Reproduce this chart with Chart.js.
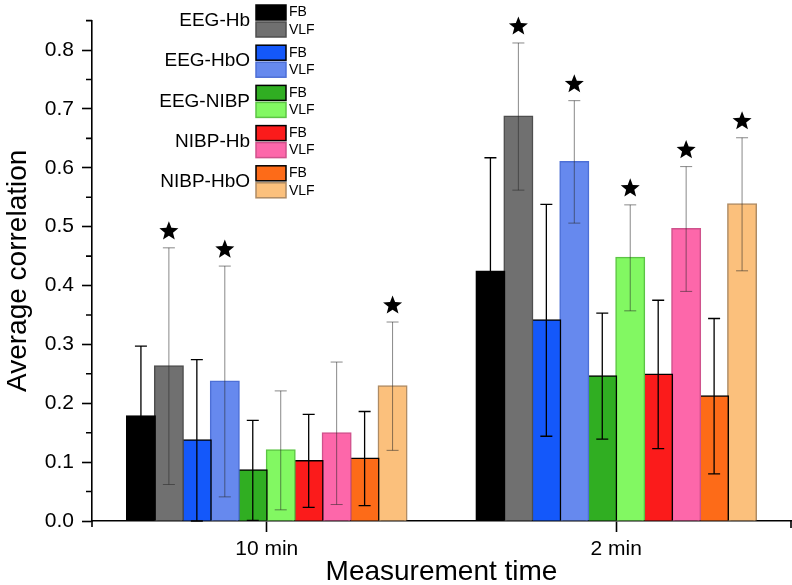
<!DOCTYPE html>
<html lang="en">
<head>
<meta charset="UTF-8">
<title>Average correlation</title>
<script src="https://cdn.jsdelivr.net/npm/chart.js"></script>
<style>
    html, body { margin: 0; padding: 0; background: #fff; }
    canvas { display: block; }
</style>
</head>
<body>
<canvas id="corrChart" width="792" height="585"></canvas>
<script>
    // categories and tick labels
    const categories = ['10 min', '2 min'];
    const yTicks = [0, 0.1, 0.2, 0.3, 0.4, 0.5, 0.6, 0.7, 0.8];
    const yMinorTicks = [0.05, 0.15, 0.25, 0.35, 0.45, 0.55, 0.65, 0.75, 0.85];
    const pairNames = ['EEG-Hb', 'EEG-HbO', 'EEG-NIBP', 'NIBP-Hb', 'NIBP-HbO'];
    const bandNames = ['FB', 'VLF'];

    // mean correlation [10 min, 2 min]
    const eegHbFB = [0.178, 0.424];
    const eegHbVLF = [0.263, 0.687];
    const eegHboFB = [0.137, 0.341];
    const eegHboVLF = [0.237, 0.610];
    const eegNibpFB = [0.086, 0.246];
    const eegNibpVLF = [0.120, 0.447];
    const nibpHbFB = [0.102, 0.249];
    const nibpHbVLF = [0.149, 0.496];
    const nibpHboFB = [0.106, 0.212];
    const nibpHboVLF = [0.229, 0.538];

    // error bar half-lengths
    const eegHbFBErr = [0.119, 0.193];
    const eegHbVLFErr = [0.201, 0.125];
    const eegHboFBErr = [0.137, 0.197];
    const eegHboVLFErr = [0.196, 0.104];
    const eegNibpFBErr = [0.085, 0.107];
    const eegNibpVLFErr = [0.101, 0.090];
    const nibpHbFBErr = [0.079, 0.126];
    const nibpHbVLFErr = [0.121, 0.106];
    const nibpHboFBErr = [0.080, 0.132];
    const nibpHboVLFErr = [0.109, 0.113];

    // significance stars (1 = star)
    const eegHbVLFSig = [1, 1];
    const eegHboVLFSig = [1, 1];
    const eegNibpVLFSig = [0, 1];
    const nibpHbVLFSig = [0, 1];
    const nibpHboVLFSig = [1, 1];
    const noSig = [0, 0];

    const fbColors = ['#000000', '#1458fa', '#30ae22', '#fb1b1b', '#fd6b18'];
    const vlfColors = ['#707070', '#6689ee', '#82f862', '#fd67aa', '#fbc07c'];
    const vlfBorders = ['#4e4e4e', '#4d6fd6', '#5cc445', '#cf528c', '#ae8b64'];
    const FONT = '"Liberation Sans", Arial, sans-serif';

    const series = [
        [eegHbFB, eegHbFBErr, noSig, eegHbVLF, eegHbVLFErr, eegHbVLFSig],
        [eegHboFB, eegHboFBErr, noSig, eegHboVLF, eegHboVLFErr, eegHboVLFSig],
        [eegNibpFB, eegNibpFBErr, noSig, eegNibpVLF, eegNibpVLFErr, eegNibpVLFSig],
        [nibpHbFB, nibpHbFBErr, noSig, nibpHbVLF, nibpHbVLFErr, nibpHbVLFSig],
        [nibpHboFB, nibpHboFBErr, noSig, nibpHboVLF, nibpHboVLFErr, nibpHboVLFSig]
    ];

    const datasets = [];
    series.forEach((s, i) => {
        datasets.push({
            label: pairNames[i] + ' ' + bandNames[0],
            data: s[0], errors: s[1], stars: s[2], band: 0,
            backgroundColor: fbColors[i],
            borderColor: '#000',
            borderWidth: 1.5
        });
        datasets.push({
            label: pairNames[i] + ' ' + bandNames[1],
            data: s[3], errors: s[4], stars: s[5], band: 1,
            backgroundColor: vlfColors[i],
            borderColor: vlfBorders[i],
            borderWidth: 1.5
        });
    });

    function drawStar(ctx, cx, cy, R, r) {
        ctx.beginPath();
        for (let k = 0; k < 10; k++) {
            const rad = k % 2 === 0 ? R : r;
            const a = -Math.PI / 2 + k * Math.PI / 5;
            const px = cx + rad * Math.cos(a), py = cy + rad * Math.sin(a);
            if (k === 0) ctx.moveTo(px, py); else ctx.lineTo(px, py);
        }
        ctx.closePath();
        ctx.fill();
    }

    const extras = {
        id: 'extras',
        afterDatasetsDraw(chart) {
            const ctx = chart.ctx;
            const y = chart.scales.y;
            ctx.save();
            chart.data.datasets.forEach((ds, i) => {
                chart.getDatasetMeta(i).data.forEach((bar, j) => {
                    const top = y.getPixelForValue(ds.data[j] + ds.errors[j]);
                    const bot = y.getPixelForValue(Math.max(0, ds.data[j] - ds.errors[j]));
                    ctx.strokeStyle = ds.band === 0 ? '#000' : 'rgba(40,40,40,0.55)';
                    ctx.lineWidth = ds.band === 0 ? 1.3 : 1;
                    ctx.beginPath();
                    ctx.moveTo(bar.x, top); ctx.lineTo(bar.x, bot);
                    ctx.moveTo(bar.x - 6, top); ctx.lineTo(bar.x + 6, top);
                    ctx.moveTo(bar.x - 6, bot); ctx.lineTo(bar.x + 6, bot);
                    ctx.stroke();
                    if (ds.stars[j]) {
                        ctx.fillStyle = '#000';
                        drawStar(ctx, bar.x, top - 16.5, 10, 4.3);
                    }
                });
            });
            ctx.restore();
        },
        afterDraw(chart) {
            const ctx = chart.ctx;
            const y = chart.scales.y;
            const area = chart.chartArea;
            ctx.save();
            ctx.strokeStyle = '#000';
            ctx.lineWidth = 1.6;
            ctx.beginPath();
            yMinorTicks.forEach(v => {
                const py = y.getPixelForValue(v);
                ctx.moveTo(area.left, py); ctx.lineTo(area.left - 6, py);
            });
            ctx.moveTo(area.left, area.bottom); ctx.lineTo(area.left, area.bottom + 6);
            ctx.moveTo(area.right, area.bottom); ctx.lineTo(area.right, area.bottom + 7);
            ctx.stroke();

            // legend
            pairNames.forEach((name, i) => {
                const y0 = 5 + i * 40.2;
                ctx.fillStyle = fbColors[i];
                ctx.fillRect(256, y0, 30, 15);
                ctx.strokeStyle = '#000';
                ctx.lineWidth = 1.5;
                ctx.strokeRect(256, y0, 30, 15);
                ctx.fillStyle = vlfColors[i];
                ctx.fillRect(256, y0 + 17, 30, 15);
                ctx.strokeStyle = vlfBorders[i];
                ctx.strokeRect(256, y0 + 17, 30, 15);

                ctx.fillStyle = '#000';
                ctx.textBaseline = 'middle';
                ctx.textAlign = 'right';
                ctx.font = '19px ' + FONT;
                ctx.fillText(name, 250, y0 + 16);
                ctx.textAlign = 'left';
                ctx.font = '14px ' + FONT;
                ctx.fillText(bandNames[0], 289, y0 + 7.5);
                ctx.fillText(bandNames[1], 289, y0 + 25);
            });
            ctx.restore();
        }
    };

    new Chart(document.getElementById('corrChart'), {
        type: 'bar',
        data: { labels: categories, datasets: datasets },
        plugins: [extras],
        options: {
            responsive: false,
            animation: false,
            devicePixelRatio: 1,
            layout: { padding: { top: 4, right: 1, left: 0, bottom: 0 } },
            plugins: { legend: { display: false }, tooltip: { enabled: false } },
            datasets: { bar: { categoryPercentage: 0.8, barPercentage: 1, inflateAmount: 1 } },
            scales: {
                x: {
                    afterFit(scale) { scale.height = 64; },
                    grid: { drawOnChartArea: false, drawTicks: true, tickLength: 11, offset: false, color: '#000', tickWidth: 1.6 },
                    border: { display: true, color: '#000', width: 1.6 },
                    ticks: { color: '#000', font: { family: FONT, size: 21 }, padding: 5 },
                    title: { display: true, text: 'Measurement time', color: '#000', font: { family: FONT, size: 28, lineHeight: 0.9 }, padding: { top: 0, bottom: 0 } }
                },
                y: {
                    min: 0,
                    max: 0.85,
                    afterFit(scale) { scale.width = 92; },
                    afterBuildTicks(scale) { scale.ticks = yTicks.map(v => ({ value: v })); },
                    grid: { drawOnChartArea: false, drawTicks: true, tickLength: 10, color: '#000', tickWidth: 1.6 },
                    border: { display: true, color: '#000', width: 1.6 },
                    ticks: { color: '#000', font: { family: FONT, size: 21 }, padding: 8, callback: v => v.toFixed(1) },
                    title: { display: true, text: 'Average correlation', color: '#000', font: { family: FONT, size: 28 }, padding: { top: 1, bottom: 0 } }
                }
            }
        }
    });
</script>
</body>
</html>
